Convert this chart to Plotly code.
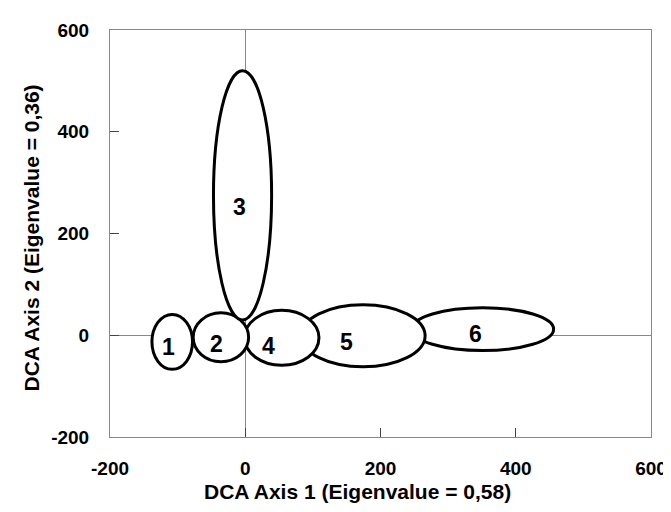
import plotly.graph_objects as go

# group labels and ellipse parameters (data units)
groups = ["1", "2", "3", "4", "5", "6"]
center_x = [-108, -36, -4, 54, 174, 351]
center_y = [-13, -4, 275, -5, -1, 12]
half_w = [30, 41, 43, 55, 92, 105]
half_h = [54, 48, 245, 54, 61, 42]
label_x = [-114, -43, -8, 34, 150, 341]
label_y = [-24, -17, 252, -21, -14, 3]

# drawing order (later ones on top)
draw_order = ["6", "5", "4", "2", "1", "3"]

x_ticks = [-200, 0, 200, 400, 600]
y_ticks = [-200, 0, 200, 400, 600]
x_tick_labels = ["-200", "0", "200", "400", "600"]
y_tick_labels = ["-200", "0", "200", "400", "600"]
x_title = "DCA Axis 1 (Eigenvalue = 0,58)"
y_title = "DCA Axis 2 (Eigenvalue = 0,36)"

FONT = "Liberation Sans"

fig = go.Figure()
# invisible trace to set up axes
fig.add_trace(go.Scatter(x=[-200, 600], y=[-200, 600], mode="markers",
                         marker=dict(opacity=0), hoverinfo="skip", showlegend=False))

shapes = []
for g in draw_order:
    i = groups.index(g)
    shapes.append(dict(type="circle", xref="x", yref="y",
                       x0=center_x[i] - half_w[i], x1=center_x[i] + half_w[i],
                       y0=center_y[i] - half_h[i], y1=center_y[i] + half_h[i],
                       line=dict(color="black", width=3), fillcolor="white",
                       layer="above"))

annotations = []
for i, g in enumerate(groups):
    annotations.append(dict(x=label_x[i], y=label_y[i], text=g, showarrow=False,
                            font=dict(size=23, color="black", family=FONT, weight="bold")))

# axis titles
annotations.append(dict(xref="paper", yref="paper", x=0.457, y=-0.135, text=x_title,
                        showarrow=False, xanchor="center", yanchor="middle",
                        font=dict(size=21, color="black", family=FONT, weight="bold")))
annotations.append(dict(xref="paper", yref="paper", x=-0.145, y=0.489, text=y_title,
                        showarrow=False, xanchor="center", yanchor="middle", textangle=-90,
                        font=dict(size=21, color="black", family=FONT, weight="bold")))

fig.update_layout(
    width=671, height=512,
    margin=dict(l=102, r=22, t=16, b=83),
    plot_bgcolor="white", paper_bgcolor="white",
    shapes=shapes, annotations=annotations,
    font=dict(family=FONT, color="black", size=19, weight="bold"),
    showlegend=False,
)
fig.update_xaxes(range=[-200, 600], tickvals=x_ticks, ticktext=x_tick_labels, showgrid=False,
                 zeroline=True, zerolinecolor="#888888", zerolinewidth=1,
                 showline=True, linecolor="#888888", linewidth=1, mirror=True,
                 ticks="inside", ticklen=9, tickcolor="#444444",
                 ticklabelstandoff=14)
fig.update_yaxes(range=[-200, 600], tickvals=y_ticks, ticktext=y_tick_labels, showgrid=False,
                 zeroline=True, zerolinecolor="#888888", zerolinewidth=1,
                 showline=True, linecolor="#888888", linewidth=1, mirror=True,
                 ticks="inside", ticklen=9, tickcolor="#444444",
                 ticklabelstandoff=16)

fig.write_html("out.html")
